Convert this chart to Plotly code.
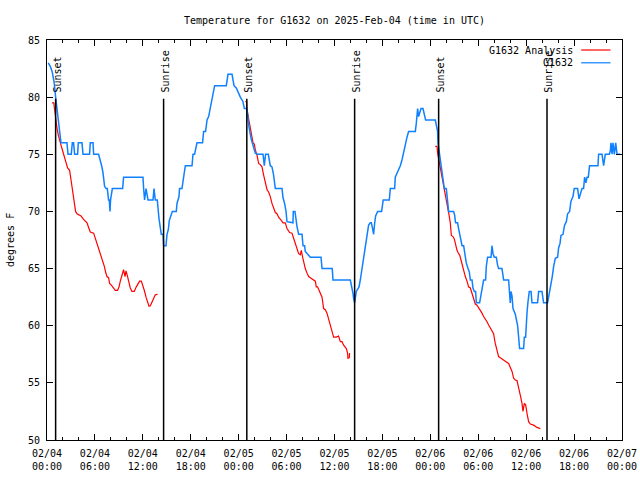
import plotly.graph_objects as go
import pandas as pd

# ---------------- data ----------------
BASE_TIME = "2025-02-04 00:00"

# G1632 observations: hours after 2025-02-04 00:00 UTC, degrees F
blue_hours = [
    0.16, 0.41, 0.66, 0.91, 1.08, 1.25, 1.41, 1.58, 1.75, 2.50,
    2.63, 3.04, 3.17, 3.33, 3.46, 3.83, 3.92, 4.38, 4.51, 5.33,
    5.42, 5.76, 5.84, 6.46, 6.67, 6.84, 7.01, 7.21, 7.39, 7.55,
    7.71, 7.80, 7.89, 7.96, 8.18, 9.47, 9.59, 12.02, 12.10, 12.22,
    12.40, 12.65, 13.27, 13.40, 13.56, 13.81, 13.90, 14.02, 14.31, 14.53,
    14.60, 14.90, 15.03, 15.19, 15.31, 15.53, 15.69, 16.19, 16.28, 16.53,
    16.60, 16.90, 17.10, 17.32, 18.16, 18.28, 18.48, 18.61, 18.78, 19.48,
    19.61, 19.86, 20.04, 20.24, 20.45, 20.70, 20.99, 22.45, 22.66, 23.17,
    23.29, 23.42, 23.70, 24.04, 24.21, 24.54, 24.71, 25.04, 25.12, 25.29,
    25.58, 25.71, 25.87, 26.08, 26.37, 27.05, 27.21, 27.37, 27.71, 27.96,
    28.17, 28.37, 28.59, 29.43, 29.55, 29.75, 29.93, 30.05, 30.80, 30.84,
    31.05, 31.18, 31.30, 31.51, 31.93, 32.06, 32.26, 32.34, 32.97, 34.31,
    34.44, 35.72, 35.81, 37.98, 38.19, 38.32, 38.39, 38.52, 38.73, 39.07,
    39.23, 39.39, 39.57, 39.73, 39.90, 40.07, 40.27, 40.48, 40.61, 40.77,
    40.90, 41.02, 41.15, 41.40, 41.90, 42.10, 42.86, 42.99, 43.53, 43.61,
    44.03, 44.24, 44.45, 44.65, 44.87, 45.08, 45.28, 46.12, 46.24, 46.41,
    46.53, 46.66, 46.83, 47.08, 47.25, 47.41, 48.62, 48.75, 48.91, 48.96,
    49.09, 49.25, 49.41, 49.59, 49.75, 50.00, 50.09, 50.29, 50.91, 51.04,
    51.16, 51.41, 51.54, 51.67, 51.84, 51.97, 52.17, 52.29, 52.42, 52.50,
    52.72, 52.88, 53.01, 53.22, 53.34, 53.51, 53.67, 53.76, 54.17, 54.26,
    54.47, 54.67, 54.92, 55.01, 55.17, 55.60, 55.72, 55.85, 56.01, 56.26,
    56.42, 56.55, 56.97, 57.18, 57.80, 57.93, 58.01, 58.10, 58.23, 58.35,
    58.64, 58.93, 59.05, 59.18, 59.68, 59.77, 59.93, 60.02, 60.11, 60.23,
    60.39, 60.61, 60.73, 61.43, 61.56, 61.98, 62.18, 62.68, 62.90, 63.11,
    63.27, 63.44, 63.65, 63.94, 64.06, 64.24, 64.36, 64.61, 64.81, 65.03,
    65.19, 65.44, 65.61, 65.86, 66.02, 66.24, 66.44, 66.62, 66.78, 66.99,
    67.19, 67.32, 67.49, 67.62, 67.78, 67.94, 68.99, 69.07, 69.50, 69.62,
    69.70, 69.78, 69.91, 70.41, 70.54, 70.62, 70.75, 70.87, 71.04, 71.21,
    71.38, 71.80,
]
blue_temps = [
    83, 82.7, 82.2, 81.2, 80, 79, 78, 77, 76, 76,
    75, 75, 76, 76, 75, 75, 76, 76, 75, 75,
    76, 76, 75, 75, 74.5, 74, 73.4, 72.2, 72, 72,
    71, 71, 70, 71, 72, 72, 73, 73, 72, 71,
    72, 71, 71, 72, 71, 71, 70.3, 69.4, 68, 68,
    67, 67, 68, 68.4, 69.2, 69.8, 70, 70, 70.7, 71.3,
    72, 72, 73, 74, 74, 75, 75, 75.5, 76, 76,
    77, 77, 78, 78.3, 79, 80, 81, 81, 82, 82,
    81.5, 81, 80.8, 80.2, 80, 79.6, 79, 79, 78.2, 77.4,
    76.3, 76, 75.7, 75.1, 75, 75, 74, 75, 75, 74,
    73.9, 73.2, 72, 72, 71.2, 70.7, 70, 69.1, 69, 70,
    70, 69, 68.7, 68, 68, 67, 67, 66.5, 66, 66,
    65, 65, 64, 64, 63.4, 62.8, 62.4, 62, 63, 63.4,
    64, 64.7, 65.5, 66.3, 67.3, 68.1, 68.8, 69, 69, 68.5,
    68, 68.9, 69.6, 70, 70, 71, 71, 72, 72, 73,
    73.6, 74, 74.5, 75.2, 75.8, 76.5, 77, 77, 77.7, 79,
    78.3, 78.7, 79, 79, 78.5, 78, 78, 77.5, 77, 76,
    75.3, 74.4, 73.6, 72.9, 72, 72, 71.1, 70, 70, 69.7,
    69, 69, 68.5, 68.1, 67.5, 67, 67, 66.3, 66, 65.5,
    65, 64.7, 64, 64, 63.3, 63, 63, 62, 62, 62.4,
    63.3, 64, 64, 65.2, 66, 66, 67, 66.3, 66, 66,
    65.3, 65, 65, 64, 64, 62.8, 62, 63, 62.6, 61.5,
    61, 60, 59.1, 58, 58, 59, 59, 60.5, 61.2, 62.1,
    63, 63, 62, 62, 63, 63, 62, 62, 62.8, 63.6,
    64.3, 65.2, 65.9, 66, 66.8, 67.2, 67.9, 68, 68.8, 69.1,
    69.8, 70, 70.9, 71.3, 72, 72, 72, 71.1, 71.5, 72,
    72, 73, 72.5, 73, 73, 74, 74, 75, 75, 74.4,
    74, 74.4, 75, 75, 75.3, 76, 75, 76, 75, 76,
    75, 75,
]

# G1632 Analysis, three nightly segments
analysis1_hours = [
    0.63, 0.85, 0.95, 1.08, 1.25, 1.41, 1.58, 1.75, 1.92, 2.08,
    2.33, 2.58, 2.83, 3.01, 3.17, 3.33, 3.51, 3.58, 3.76, 4.26,
    4.58, 5.01, 5.21, 5.42, 5.84, 6.05, 6.26, 6.46, 6.67, 7.01,
    7.18, 7.34, 7.51, 7.71, 7.84, 8.01, 8.26, 8.55, 8.84, 9.02,
    9.18, 9.39, 9.59, 9.77, 9.89, 10.02, 10.22, 10.43, 10.64, 10.93,
    11.18, 11.39, 11.60, 11.81, 12.02, 12.18, 12.40, 12.60, 12.77, 12.94,
    13.15, 13.35, 13.56, 13.85,
]
analysis1_temps = [
    79.5, 79.5, 78.9, 78, 77.3, 76.7, 76.1, 75.8, 75.4, 74.9,
    74.4, 73.8, 73.6, 72.75, 72, 71.4, 70.7, 70, 69.8, 69.6,
    69.3, 69, 68.6, 68.2, 68.1, 67.65, 67.2, 66.8, 66.3, 65.75,
    65.2, 64.7, 64.3, 64.2, 63.7, 63.6, 63.4, 63.1, 63.1, 63.4,
    63.9, 64.4, 64.9, 64.3, 64.8, 64.5, 63.9, 63.3, 63, 63,
    63.4, 63.7, 63.9, 63.9, 63.5, 63.1, 62.5, 62, 61.7, 61.75,
    62.1, 62.4, 62.7, 62.75,
]
analysis2_hours = [
    24.83, 25.00, 25.04, 25.24, 25.46, 25.67, 25.80, 25.96, 26.08, 26.30,
    26.50, 26.71, 26.92, 27.12, 27.34, 27.55, 27.75, 27.96, 28.17, 28.37,
    28.59, 28.80, 29.00, 29.30, 29.55, 29.84, 30.05, 30.38, 30.68, 30.88,
    31.09, 31.30, 31.51, 31.72, 31.84, 32.01, 32.13, 32.34, 32.56, 32.76,
    32.97, 33.31, 33.60, 33.72, 33.88, 34.13, 34.44, 34.64, 34.85, 35.06,
    35.26, 35.47, 35.69, 35.89, 36.23, 36.51, 36.73, 36.94, 37.14, 37.48,
    37.64, 37.69, 37.85, 37.89,
]
analysis2_temps = [
    79.6, 79.6, 78.9, 78.1, 77.4, 76.7, 76, 75.9, 75.4, 74.9,
    74.2, 74.1, 73.9, 73.2, 72.6, 71.9, 71.7, 71.3, 70.7, 70.3,
    69.9, 69.8, 69.5, 69.25, 69, 69, 68.5, 68.15, 68.1, 67.65,
    67.2, 66.8, 66.3, 66.2, 66.6, 66, 65.6, 65, 64.6, 64.3,
    64.2, 64, 63.9, 63.4, 63.4, 63, 62.5, 61.5, 61.4, 61.1,
    60.5, 60.1, 59.5, 59, 59, 59.1, 58.6, 58.6, 58.3, 58,
    57.6, 57.15, 57.2, 57.6,
]
analysis3_hours = [
    48.62, 48.84, 48.91, 49.12, 49.25, 49.41, 49.59, 49.75, 50.00, 50.16,
    50.34, 50.50, 50.63, 50.84, 51.00, 51.17, 51.34, 51.54, 51.67, 51.84,
    52.00, 52.17, 52.38, 52.59, 52.79, 53.01, 53.22, 53.42, 53.63, 53.84,
    54.04, 54.26, 54.47, 54.67, 54.88, 55.10, 55.30, 55.51, 55.72, 55.92,
    56.13, 56.35, 56.55, 56.76, 57.10, 57.39, 57.80, 58.01, 58.23, 58.43,
    58.64, 58.85, 59.05, 59.27, 59.48, 59.60, 59.77, 59.93, 60.11, 60.31,
    60.52, 60.93, 61.36, 61.77,
]
analysis3_temps = [
    75.7, 75.7, 75.1, 74.35, 73.9, 73, 72.6, 71.9, 71.1, 70.4,
    69.7, 69, 67.9, 67.8, 67.6, 67.1, 66.6, 66.3, 66.2, 65.75,
    65.3, 64.7, 64.3, 63.9, 63.4, 63.3, 62.8, 62.25, 61.9, 61.8,
    61.6, 61.3, 61.1, 60.8, 60.6, 60.35, 60.06, 59.8, 59.6, 59.3,
    58.45, 57.9, 57.3, 57.2, 57, 56.9, 56.7, 56.4, 56, 55.4,
    55.25, 55.2, 54.4, 53.9, 53.2, 52.5, 53.2, 53.1, 52.3, 51.6,
    51.4, 51.3, 51.1, 51,
]

# sunset / sunrise markers (hours after base time)
event_hours = [1.08, 14.60, 25.02, 38.52, 49.04, 62.61]
event_labels = ["Sunset", "Sunrise", "Sunset", "Sunrise", "Sunset", "Sunrise"]
event_line_top = 79.85

# axis ticks
tick_hours = [0, 6, 12, 18, 24, 30, 36, 42, 48, 54, 60, 66, 72]
tick_labels = [
    "02/04<br>00:00", "02/04<br>06:00", "02/04<br>12:00", "02/04<br>18:00",
    "02/05<br>00:00", "02/05<br>06:00", "02/05<br>12:00", "02/05<br>18:00",
    "02/06<br>00:00", "02/06<br>06:00", "02/06<br>12:00", "02/06<br>18:00",
    "02/07<br>00:00",
]
y_range = [50, 85]

assert len(blue_hours) == len(blue_temps)
assert len(analysis1_hours) == len(analysis1_temps)
assert len(analysis2_hours) == len(analysis2_temps)
assert len(analysis3_hours) == len(analysis3_temps)

# ---------------- build ----------------
base = pd.Timestamp(BASE_TIME)


def to_time(hours):
    return [None if h is None else base + pd.Timedelta(hours=h) for h in hours]


red_h = analysis1_hours + [None] + analysis2_hours + [None] + analysis3_hours
red_t = analysis1_temps + [None] + analysis2_temps + [None] + analysis3_temps

FONT = "DejaVu Sans Mono"
RED = "#ff0000"
BLUE = "#0f80ff"

fig = go.Figure()
fig.add_trace(go.Scatter(x=to_time(red_h), y=red_t, mode="lines", name="G1632 Analysis",
                         line=dict(color=RED, width=1.2), connectgaps=False))
fig.add_trace(go.Scatter(x=to_time(blue_hours), y=blue_temps, mode="lines", name="G1632",
                         line=dict(color=BLUE, width=1.5)))

shapes = []
annotations = []
for h, lab in zip(event_hours, event_labels):
    t = base + pd.Timedelta(hours=h)
    shapes.append(dict(type="line", xref="x", yref="y", x0=t, x1=t, y0=y_range[0], y1=event_line_top,
                       line=dict(color="black", width=1.5)))
    annotations.append(dict(x=t, y=event_line_top, xref="x", yref="y", text=lab, showarrow=False,
                            textangle=-90, xanchor="center", yanchor="bottom", xshift=2, yshift=4,
                            font=dict(family=FONT, size=10, color="black")))

# gnuplot-style key (text right, sample line to its right)
key_items = [("G1632 Analysis", RED, 0.975), ("G1632", BLUE, 0.943)]
for name, col, yy in key_items:
    annotations.append(dict(x=0.918, y=yy, xref="paper", yref="paper", text=name, showarrow=False,
                            xanchor="right", yanchor="middle", font=dict(family=FONT, size=10, color="black")))
    shapes.append(dict(type="line", xref="paper", yref="paper", x0=0.929, x1=0.980, y0=yy, y1=yy,
                       line=dict(color=col, width=1.2)))

# y axis title
annotations.append(dict(x=(10 - 47) / 575, y=0.5, xref="paper", yref="paper", text="degrees F",
                        showarrow=False, textangle=-90, xanchor="center", yanchor="middle",
                        font=dict(family=FONT, size=10, color="black")))

fig.update_layout(
    width=640, height=480,
    margin=dict(l=47, r=18, t=40, b=40, autoexpand=False),
    paper_bgcolor="white", plot_bgcolor="white",
    showlegend=False,
    font=dict(family=FONT, size=10, color="black"),
    title=dict(text="Temperature for G1632 on 2025-Feb-04 (time in UTC)", x=0.5, xref="paper",
               y=1 - 20 / 480, yref="container", xanchor="center", yanchor="middle",
               font=dict(family=FONT, size=10, color="black")),
    shapes=shapes, annotations=annotations,
)
fig.update_xaxes(
    type="date", range=[base, base + pd.Timedelta(hours=72)],
    tickmode="array", tickvals=to_time(tick_hours), ticktext=tick_labels,
    ticks="inside", ticklen=6, tickcolor="black", tickwidth=1,
    showline=True, linecolor="black", linewidth=1, mirror="allticks",
    showgrid=False, zeroline=False, automargin=False,
    minor=dict(tickmode="linear", tick0=base, dtick=2 * 3600 * 1000, ticks="inside", ticklen=3,
               tickcolor="black", showgrid=False),
    tickfont=dict(family=FONT, size=10, color="black"),
    ticklabelstandoff=4,
)
fig.update_yaxes(
    range=y_range, tickmode="linear", tick0=50, dtick=5,
    ticks="inside", ticklen=6, tickcolor="black", tickwidth=1,
    showline=True, linecolor="black", linewidth=1, mirror="allticks",
    showgrid=False, zeroline=False, automargin=False,
    tickfont=dict(family=FONT, size=10, color="black"),
    ticklabelstandoff=4,
)

fig.write_html("out.html", config={"displayModeBar": False},
               post_script="document.body.style.margin='0px';document.body.style.overflow='hidden';")
